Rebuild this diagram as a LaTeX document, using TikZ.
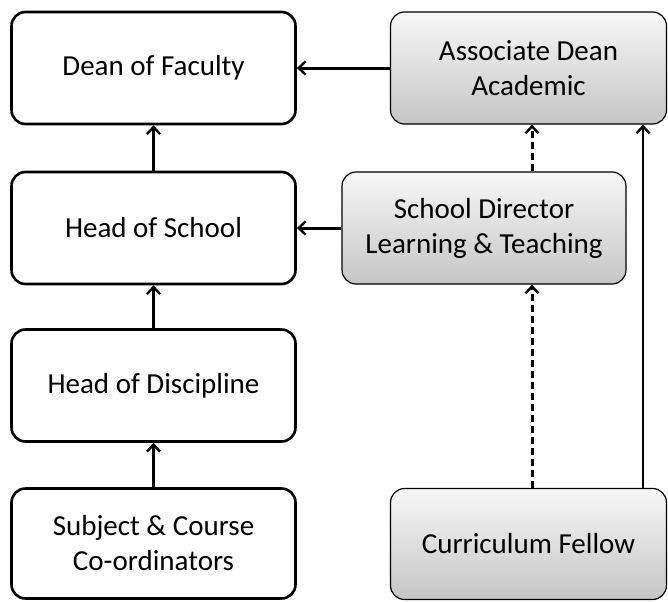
\documentclass[tikz,border=0pt]{standalone}
\usepackage{fontspec}
\setmainfont{Carlito}
\usepackage{tikz}
\usetikzlibrary{arrows.meta,positioning}

\tikzset{
  rolebox/.style={draw, line width=2.6pt, rounded corners=14pt, minimum width=284pt,
    minimum height=112pt, align=center, font=\fontsize{29}{35}\selectfont},
  staffbox/.style={rolebox, line width=1.2pt, top color=gray!6, bottom color=gray!45},
  link/.style={-{Straight Barb[length=7pt,width=13pt,line width=2.4pt]}, line width=3pt},
}

\begin{document}
\begin{tikzpicture}[x=1pt,y=1pt]
    \useasboundingbox (0,0) rectangle (668,-602);

    % Line of responsibility (left)
    \node[rolebox] (dean) at (153.5,-68) {Dean of Faculty};
    \node[rolebox] (school) at (153.5,-228) {Head of School};
    \node[rolebox] (discipline) at (153.5,-385.5) {Head of Discipline};
    \node[rolebox, minimum height=110pt] (coord) at (153.5,-543.5) {Subject \& Course\\Co-ordinators};

    % Learning and teaching roles (right)
    \node[staffbox, minimum width=276pt] (assoc) at (528.5,-68) {Associate Dean\\Academic};
    \node[staffbox] (director) at (484,-228) {School Director\\Learning \& Teaching};
    \node[staffbox, minimum width=276pt, minimum height=111pt] (fellow) at (528.5,-544) {Curriculum Fellow};

    \coordinate (dashx) at (532,0);
    \coordinate (solidx) at (643,0);

    % Reporting lines
    \draw[link] (school) -- (dean);
    \draw[link] (discipline) -- (school);
    \draw[link] (coord) -- (discipline);
    \draw[link] (assoc) -- (dean);
    \draw[link] (director) -- (school);

    \draw[link, dashed, dash pattern=on 7pt off 4pt] (dashx |- fellow.north) -- (dashx |- director.south);
    \draw[link, dashed, dash pattern=on 7pt off 4pt] (dashx |- director.north) -- (dashx |- assoc.south);
    \draw[link, line width=2.4pt] (solidx |- fellow.north) -- (solidx |- assoc.south);
\end{tikzpicture}
\end{document}
